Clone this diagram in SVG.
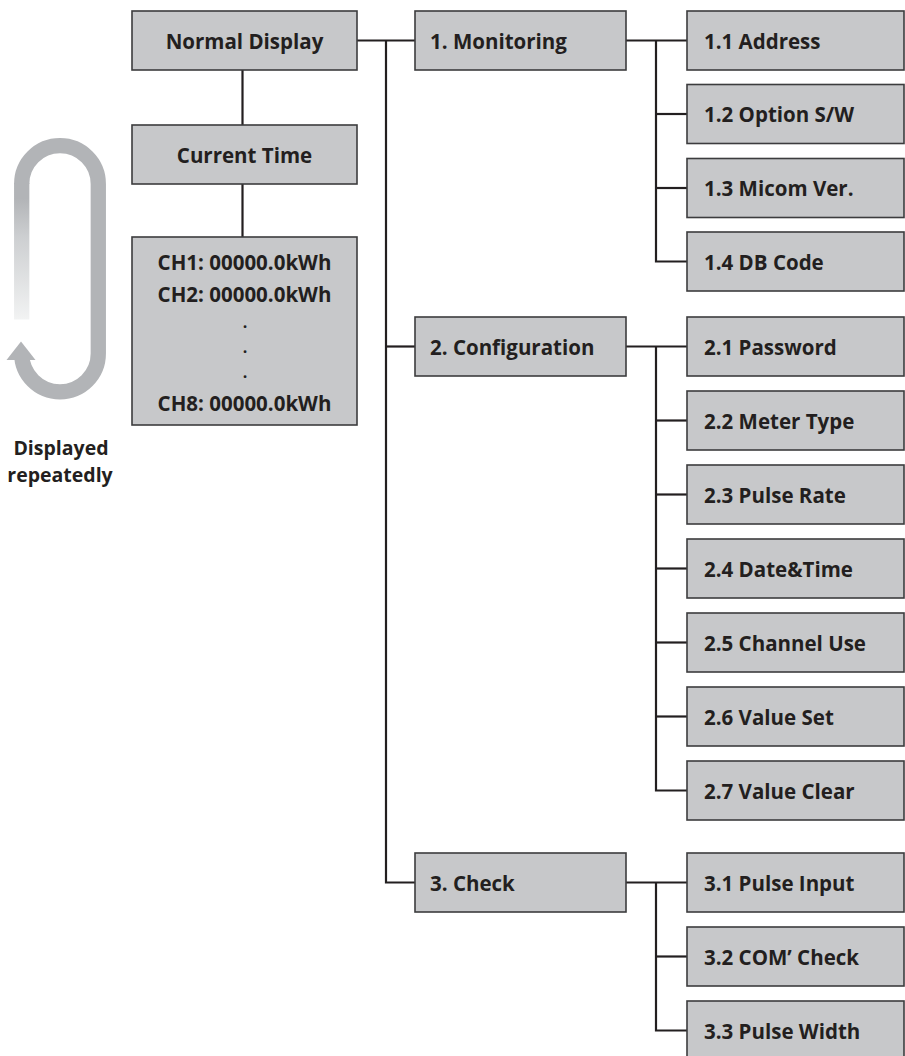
<svg xmlns="http://www.w3.org/2000/svg" width="905" height="1056" viewBox="0 0 905 1056">
<style>
.box{fill:#c7c8ca;stroke:#3c3c3e;stroke-width:1.6}
.t{font-family:"Open Sans","Noto Sans","Liberation Sans",sans-serif;font-weight:700;font-size:20.5px;fill:#231f20}
.c{text-anchor:middle}
.dot{font-size:16px}
.cap{font-size:19.5px}
.ln{stroke:#231f20;stroke-width:2.2;fill:none}
.loop{stroke:#b2b4b7;stroke-width:15.3;fill:none}
</style>
<defs>
<linearGradient id="fade" gradientUnits="userSpaceOnUse" x1="0" y1="182" x2="0" y2="320">
<stop offset="0" stop-color="#b2b4b7"/>
<stop offset="0.12" stop-color="#b2b4b7"/>
<stop offset="0.4" stop-color="#cdcfd1"/>
<stop offset="1" stop-color="#f2f3f3"/>
</linearGradient>
</defs>
<g id="loop">
<path class="loop" d="M21.7 184 A38.3 38.3 0 0 1 98.3 184 L98.3 353.5 A38.3 38.3 0 0 1 21.7 353.5 L21.7 359"/>
<rect x="14.05" y="183" width="15.3" height="136.5" fill="url(#fade)"/>
<polygon points="21,341.5 6.5,360 35.5,360" fill="#b2b4b7"/>
<text class="t c cap" x="61" y="455">Displayed</text>
<text class="t c cap" x="60" y="482">repeatedly</text>
</g>
<g id="connectors">
<line class="ln" x1="242.5" y1="70" x2="242.5" y2="125"/>
<line class="ln" x1="242.5" y1="184" x2="242.5" y2="237"/>
<line class="ln" x1="357" y1="40.5" x2="415" y2="40.5"/>
<path class="ln" d="M386 40.5 V882.5 H415"/>
<line class="ln" x1="386" y1="346.5" x2="415" y2="346.5"/>
<line class="ln" x1="626" y1="40.5" x2="687" y2="40.5"/>
<path class="ln" d="M656 40.5 V261.5 H687"/>
<line class="ln" x1="656" y1="114" x2="687" y2="114"/>
<line class="ln" x1="656" y1="188" x2="687" y2="188"/>
<line class="ln" x1="626" y1="346.5" x2="687" y2="346.5"/>
<path class="ln" d="M656 346.5 V790.5 H687"/>
<line class="ln" x1="656" y1="420.5" x2="687" y2="420.5"/>
<line class="ln" x1="656" y1="494.5" x2="687" y2="494.5"/>
<line class="ln" x1="656" y1="568.5" x2="687" y2="568.5"/>
<line class="ln" x1="656" y1="642.5" x2="687" y2="642.5"/>
<line class="ln" x1="656" y1="716.5" x2="687" y2="716.5"/>
<line class="ln" x1="626" y1="882.5" x2="687" y2="882.5"/>
<path class="ln" d="M656 882.5 V1030.5 H687"/>
<line class="ln" x1="656" y1="956.5" x2="687" y2="956.5"/>
</g>
<g id="normal-display"><rect class="box" x="132" y="11" width="225" height="59"/><text class="t c" x="244.5" y="48.5">Normal Display</text></g>
<g id="current-time"><rect class="box" x="132" y="125" width="225" height="59"/><text class="t c" x="244.5" y="162.5">Current Time</text></g>
<g id="channels"><rect class="box" x="132" y="237" width="225" height="188"/>
<text class="t c" x="244.5" y="269.5">CH1: 00000.0kWh</text>
<text class="t c" x="244.5" y="301.5">CH2: 00000.0kWh</text>
<text class="t c dot" x="245" y="328">.</text>
<text class="t c dot" x="245" y="353">.</text>
<text class="t c dot" x="245" y="378">.</text>
<text class="t c" x="244.5" y="411">CH8: 00000.0kWh</text>
</g>
<g id="monitoring"><rect class="box" x="415" y="11" width="211" height="59"/><text class="t" x="430" y="48.5">1. Monitoring</text></g>
<g id="configuration"><rect class="box" x="415" y="317" width="211" height="59"/><text class="t" x="430" y="354.5">2. Configuration</text></g>
<g id="check"><rect class="box" x="415" y="853" width="211" height="59"/><text class="t" x="430" y="890.5">3. Check</text></g>
<g id="n1-1"><rect class="box" x="687" y="11" width="217" height="59"/><text class="t" x="704" y="48.5">1.1 Address</text></g>
<g id="n1-2"><rect class="box" x="687" y="84.5" width="217" height="59"/><text class="t" x="704" y="122">1.2 Option S/W</text></g>
<g id="n1-3"><rect class="box" x="687" y="158.5" width="217" height="59"/><text class="t" x="704" y="196">1.3 Micom Ver.</text></g>
<g id="n1-4"><rect class="box" x="687" y="232" width="217" height="59"/><text class="t" x="704" y="269.5">1.4 DB Code</text></g>
<g id="n2-1"><rect class="box" x="687" y="317" width="217" height="59"/><text class="t" x="704" y="354.5">2.1 Password</text></g>
<g id="n2-2"><rect class="box" x="687" y="391" width="217" height="59"/><text class="t" x="704" y="428.5">2.2 Meter Type</text></g>
<g id="n2-3"><rect class="box" x="687" y="465" width="217" height="59"/><text class="t" x="704" y="502.5">2.3 Pulse Rate</text></g>
<g id="n2-4"><rect class="box" x="687" y="539" width="217" height="59"/><text class="t" x="704" y="576.5">2.4 Date&amp;Time</text></g>
<g id="n2-5"><rect class="box" x="687" y="613" width="217" height="59"/><text class="t" x="704" y="650.5">2.5 Channel Use</text></g>
<g id="n2-6"><rect class="box" x="687" y="687" width="217" height="59"/><text class="t" x="704" y="724.5">2.6 Value Set</text></g>
<g id="n2-7"><rect class="box" x="687" y="761" width="217" height="59"/><text class="t" x="704" y="798.5">2.7 Value Clear</text></g>
<g id="n3-1"><rect class="box" x="687" y="853" width="217" height="59"/><text class="t" x="704" y="890.5">3.1 Pulse Input</text></g>
<g id="n3-2"><rect class="box" x="687" y="927" width="217" height="59"/><text class="t" x="704" y="964.5">3.2 COM’ Check</text></g>
<g id="n3-3"><rect class="box" x="687" y="1001" width="217" height="59"/><text class="t" x="704" y="1038.5">3.3 Pulse Width</text></g>
</svg>
